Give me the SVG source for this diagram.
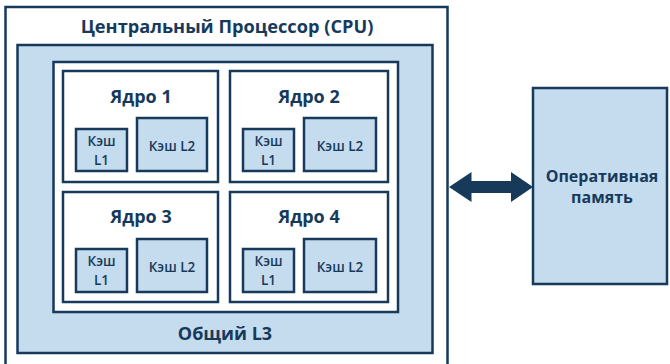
<svg xmlns="http://www.w3.org/2000/svg" width="670" height="364" viewBox="0 0 670 364">
<style>
.b{stroke:#173a5b;stroke-width:2.5;}
.w{fill:#ffffff;}
.f{fill:#c5dcee;}
text{font-family:"Open Sans","Noto Sans","DejaVu Sans",sans-serif;font-weight:700;fill:#173a5b;text-anchor:middle;}
.t1{font-size:18.2px;}
.t2{font-size:18px;}
.t3{font-size:13.5px;font-weight:600;}
.t4{font-size:16px;}
</style>
<rect width="670" height="364" fill="#ffffff"/>
<g id="cpu">
<rect class="b w" x="5.5" y="7" width="442" height="370"/>
<text class="t1" x="227" y="33">Центральный Процессор (CPU)</text>
</g>
<g id="l3">
<rect class="b f" x="17.5" y="45" width="415" height="308"/>
<text class="t2" x="225" y="340">Общий L3</text>
</g>
<g id="cores">
<rect class="b w" x="53.5" y="62" width="344.5" height="250"/>
</g>
<g id="core1">
<rect class="b w" x="63" y="71" width="155" height="111"/>
<text class="t2" x="141" y="103">Ядро 1</text>
<rect class="b f" x="76" y="129" width="51" height="42"/>
<text class="t3" x="101.5" y="146">Кэш</text>
<text class="t3" x="101.5" y="164.5">L1</text>
<rect class="b f" x="137" y="118" width="70" height="53"/>
<text class="t3" x="172" y="151">Кэш L2</text>
</g>
<g id="core2">
<rect class="b w" x="230" y="71" width="158" height="111"/>
<text class="t2" x="309" y="103">Ядро 2</text>
<rect class="b f" x="243" y="129" width="51" height="42"/>
<text class="t3" x="268.5" y="146">Кэш</text>
<text class="t3" x="268.5" y="164.5">L1</text>
<rect class="b f" x="304" y="118" width="72" height="53"/>
<text class="t3" x="340" y="151">Кэш L2</text>
</g>
<g id="core3">
<rect class="b w" x="63" y="192" width="155" height="110"/>
<text class="t2" x="141" y="223">Ядро 3</text>
<rect class="b f" x="76" y="249" width="51" height="43"/>
<text class="t3" x="101.5" y="266">Кэш</text>
<text class="t3" x="101.5" y="285">L1</text>
<rect class="b f" x="137" y="239" width="70" height="53"/>
<text class="t3" x="172" y="272">Кэш L2</text>
</g>
<g id="core4">
<rect class="b w" x="230" y="192" width="158" height="110"/>
<text class="t2" x="309" y="223">Ядро 4</text>
<rect class="b f" x="243" y="249" width="51" height="43"/>
<text class="t3" x="268.5" y="266">Кэш</text>
<text class="t3" x="268.5" y="285">L1</text>
<rect class="b f" x="304" y="239" width="72" height="53"/>
<text class="t3" x="340" y="272">Кэш L2</text>
</g>
<g id="ram">
<rect class="b f" x="533" y="88" width="134" height="196"/>
<text class="t4" x="602" y="182">Оперативная</text>
<text class="t4" x="602" y="203">память</text>
</g>
<g id="connectors">
<polygon fill="#173a5b" points="449,187 471.5,172 471.5,181 511,181 511,172 533,187 511,202 511,193 471.5,193 471.5,202"/>
</g>
</svg>
